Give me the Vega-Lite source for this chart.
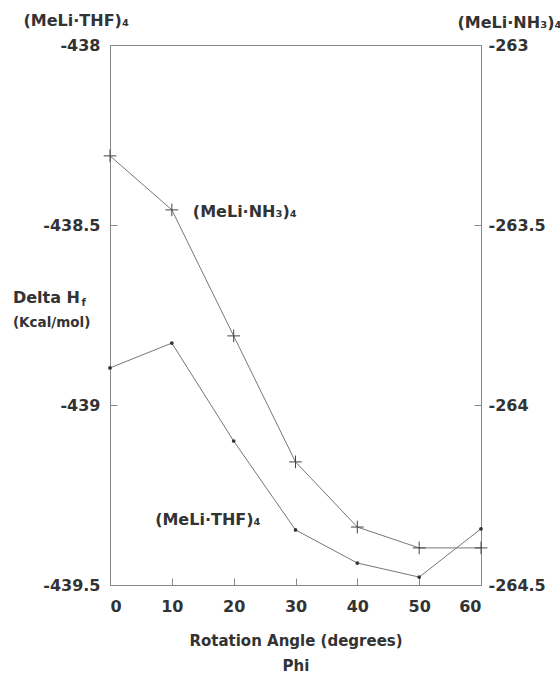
{
  "$schema": "https://vega.github.io/schema/vega-lite/v6.json",
  "width": 371,
  "height": 540,
  "autosize": {"type": "none"},
  "padding": {"left": 110, "top": 45, "right": 79, "bottom": 88},
  "background": "white",
  "config": {
    "view": {"stroke": "#888", "strokeWidth": 1},
    "font": "DejaVu Sans",
    "axis": {
      "grid": false,
      "domainColor": "#888",
      "tickColor": "#888",
      "labelFont": "DejaVu Sans",
      "labelFontWeight": "bold",
      "labelFontSize": 16,
      "labelColor": "#333",
      "titleFont": "DejaVu Sans",
      "titleFontWeight": "bold",
      "titleColor": "#333"
    }
  },
  "datasets": {
    "thf": [
      {"phi": 0, "dh": -438.897},
      {"phi": 10, "dh": -438.828},
      {"phi": 20, "dh": -439.1},
      {"phi": 30, "dh": -439.347},
      {"phi": 40, "dh": -439.439},
      {"phi": 50, "dh": -439.478},
      {"phi": 60, "dh": -439.344}
    ],
    "nh3": [
      {"phi": 0, "dh": -263.308},
      {"phi": 10, "dh": -263.458},
      {"phi": 20, "dh": -263.808},
      {"phi": 30, "dh": -264.158},
      {"phi": 40, "dh": -264.339},
      {"phi": 50, "dh": -264.397},
      {"phi": 60, "dh": -264.397}
    ]
  },
  "layer": [
    {
      "data": {"name": "thf"},
      "encoding": {
        "x": {
          "field": "phi",
          "type": "quantitative",
          "scale": {"domain": [0, 60], "nice": false, "zero": false},
          "axis": {
            "values": [0, 10, 20, 30, 40, 50, 60],
            "tickSize": -7,
            "labelPadding": 20,
            "title": ["Rotation Angle (degrees)", "Phi"],
            "titleFontSize": 15,
            "titleLineHeight": 25,
            "titleBaseline": "top",
            "titleY": 48
          }
        },
        "y": {
          "field": "dh",
          "type": "quantitative",
          "scale": {"domain": [-439.5, -438], "nice": false, "zero": false},
          "axis": {
            "orient": "left",
            "values": [-439.5, -439, -438.5, -438],
            "tickSize": -7,
            "labelExpr": "'-' + format(-datum.value, '~g')",
            "labelPadding": 17,
            "title": "(MeLi·THF)₄",
            "titleAngle": 0,
            "titleFontSize": 16,
            "titleAlign": "left",
            "titleBaseline": "middle",
            "titleX": -87,
            "titleY": -25
          }
        }
      },
      "layer": [
        {"mark": {"type": "line", "color": "#777", "strokeWidth": 1}},
        {"mark": {"type": "point", "shape": "circle", "filled": true, "size": 14, "color": "#333", "opacity": 1}}
      ]
    },
    {
      "data": {"values": [{"k": 1}]},
      "layer": [
        {
          "mark": {"type": "text", "fontSize": 16, "fontWeight": "bold", "font": "DejaVu Sans", "fill": "#333", "align": "left", "baseline": "middle"},
          "encoding": {"text": {"value": "Delta H"}, "x": {"datum": -15.7, "type": "quantitative"}, "y": {"datum": -438.702, "type": "quantitative", "scale": {"domain": [-439.5, -438], "nice": false, "zero": false}, "axis": null}}
        },
        {
          "mark": {"type": "text", "fontSize": 10, "fontWeight": "bold", "font": "DejaVu Sans", "fill": "#333", "align": "left", "baseline": "middle"},
          "encoding": {"text": {"value": "f"}, "x": {"datum": -4.6, "type": "quantitative"}, "y": {"datum": -438.716, "type": "quantitative"}}
        },
        {
          "mark": {"type": "text", "fontSize": 13.5, "fontWeight": "bold", "font": "DejaVu Sans", "fill": "#333", "align": "left", "baseline": "middle"},
          "encoding": {"text": {"value": "(Kcal/mol)"}, "x": {"datum": -15.7, "type": "quantitative"}, "y": {"datum": -438.772, "type": "quantitative"}}
        },
        {
          "mark": {"type": "text", "fontSize": 16, "fontWeight": "bold", "font": "DejaVu Sans", "fill": "#333", "align": "left", "baseline": "middle"},
          "encoding": {"text": {"value": "(MeLi·NH₃)₄"}, "x": {"datum": 13.4, "type": "quantitative"}, "y": {"datum": -438.464, "type": "quantitative"}}
        },
        {
          "mark": {"type": "text", "fontSize": 16, "fontWeight": "bold", "font": "DejaVu Sans", "fill": "#333", "align": "left", "baseline": "middle"},
          "encoding": {"text": {"value": "(MeLi·THF)₄"}, "x": {"datum": 7.3, "type": "quantitative"}, "y": {"datum": -439.319, "type": "quantitative"}}
        }
      ]
    },
    {
      "data": {"name": "nh3"},
      "encoding": {
        "x": {"field": "phi", "type": "quantitative"},
        "y": {
          "field": "dh",
          "type": "quantitative",
          "scale": {"domain": [-264.5, -263], "nice": false, "zero": false},
          "axis": {
            "orient": "right",
            "values": [-264.5, -264, -263.5, -263],
            "tickSize": -7,
            "labelExpr": "'-' + format(-datum.value, '~g')",
            "labelPadding": 14,
            "title": "(MeLi·NH₃)₄",
            "titleAngle": 0,
            "titleFontSize": 16,
            "titleAlign": "left",
            "titleBaseline": "middle",
            "titleX": -24,
            "titleY": -23
          }
        }
      },
      "layer": [
        {"mark": {"type": "line", "color": "#777", "strokeWidth": 1}},
        {"mark": {"type": "point", "shape": "M-1,0L1,0M0,-1L0,1", "filled": false, "size": 160, "color": "#444", "strokeWidth": 1, "opacity": 1}}
      ]
    }
  ],
  "resolve": {"scale": {"y": "independent"}, "axis": {"y": "independent"}}
}
